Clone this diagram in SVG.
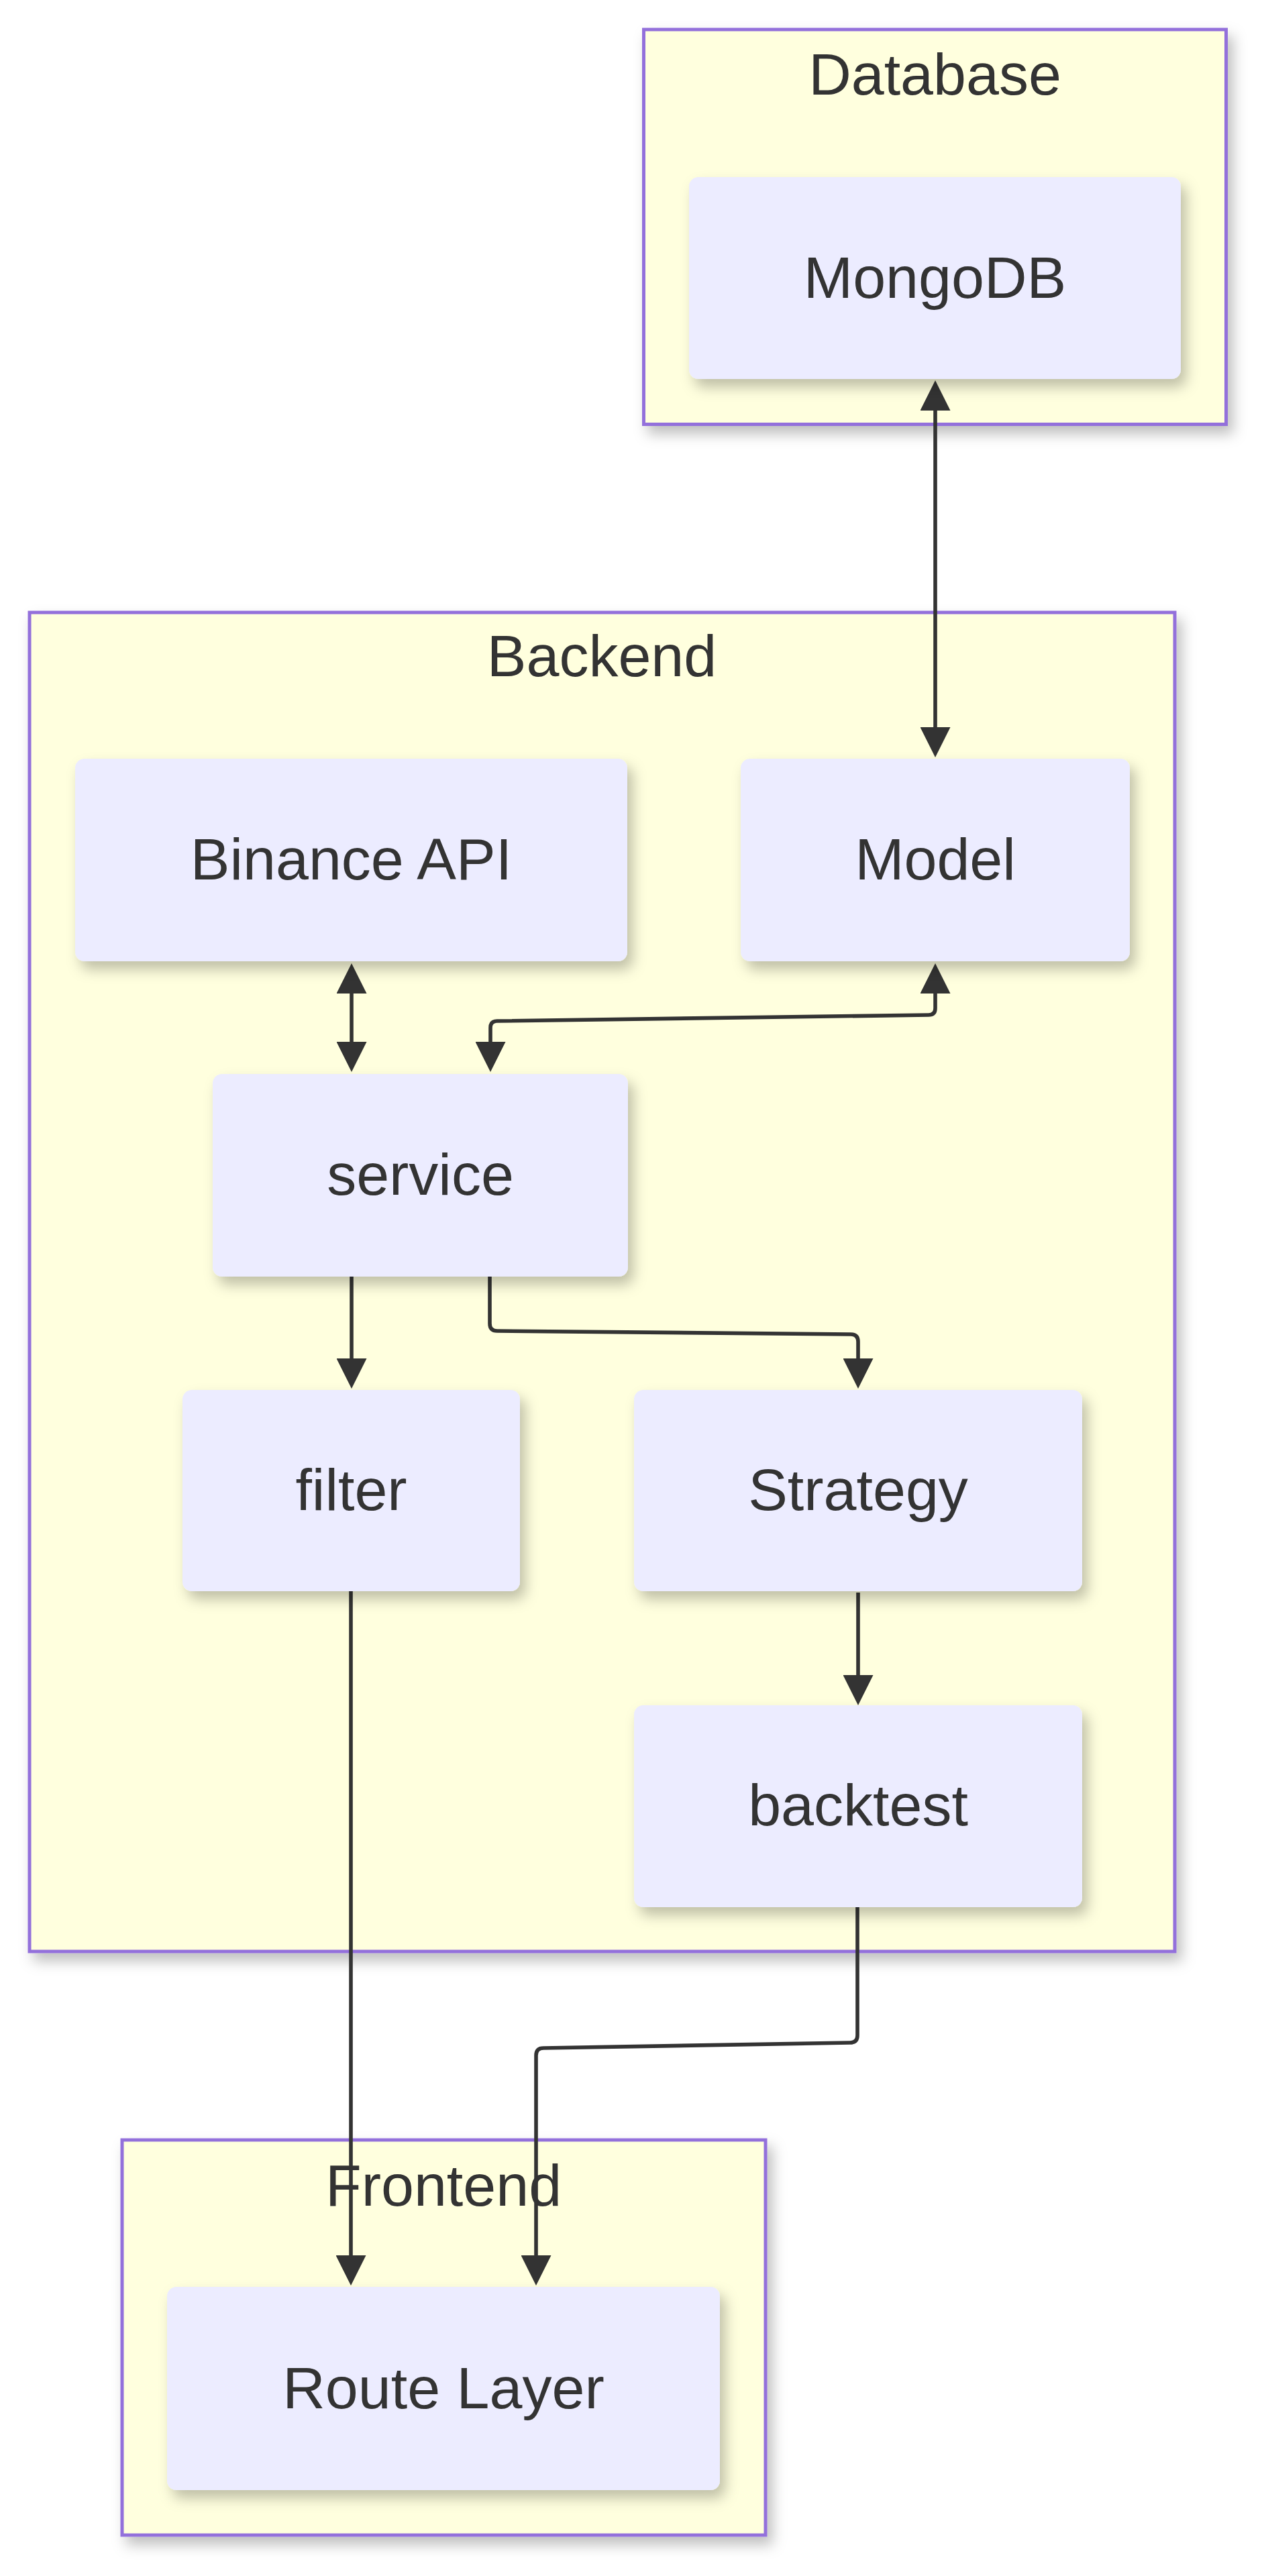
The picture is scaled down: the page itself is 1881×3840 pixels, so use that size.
<svg xmlns="http://www.w3.org/2000/svg" width="1881" height="3840" viewBox="0 0 1881 3840">
<style>
.cluster rect{fill:#ffffde;stroke:#9370DB;stroke-width:5;filter:url(#sh)}
.node rect{fill:#ECECFF;stroke:none;filter:url(#sh)}
text{font-family:"Liberation Sans",Arial,Helvetica,sans-serif;font-size:88px;fill:#333;text-anchor:middle}
.edge{fill:none;stroke:#333;stroke-width:5.6;marker-end:url(#arr)}
.bi{marker-start:url(#arr)}
</style>
<defs>
<filter id="sh" x="-10%" y="-10%" width="130%" height="130%">
<feDropShadow dx="8" dy="12" stdDeviation="10" flood-color="#000" flood-opacity="0.25"/>
</filter>
<marker id="arr" viewBox="0 0 10 10" refX="0" refY="5" markerUnits="userSpaceOnUse" markerWidth="45" markerHeight="45" orient="auto-start-reverse">
<path d="M0 0 L10 5 L0 10 z" fill="#333"/>
</marker>
</defs>
<rect width="1881" height="3840" fill="#ffffff"/>
<g id="cluster-Database" class="cluster"><rect x="959.5" y="44" width="868" height="588.5"/><text x="1393.5" y="141">Database</text></g>
<g id="cluster-Backend" class="cluster"><rect x="44" y="913" width="1707" height="1996"/><text x="897" y="1008">Backend</text></g>
<g id="cluster-Frontend" class="cluster"><rect x="182" y="3190" width="959" height="589"/><text x="661" y="3288">Frontend</text></g>
<g id="edges">
<path class="edge bi" d="M1394 612 L1394 1084"/>
<path class="edge bi" d="M524 1481 L524 1553"/>
<path class="edge bi" d="M1394 1481 L1394 1503 Q1394 1513 1384 1513 L741 1522 Q731 1522 731 1532 L731 1553"/>
<path class="edge" d="M524 1903 L524 2025"/>
<path class="edge" d="M730 1903 L730 1973 Q730 1984 741 1984 L1268 1989 Q1279 1989 1279 2000 L1279 2025"/>
<path class="edge" d="M1279 2374 L1279 2497"/>
<path class="edge" d="M523 2372 L523 3362"/>
<path class="edge" d="M1278 2843 L1278 3034 Q1278 3045 1267 3045 L810 3053 Q799 3053 799 3064 L799 3362"/>
</g>
<g id="node-MongoDB" class="node"><rect x="1027" y="264" width="733" height="301" rx="14"/><text x="1393.5" y="444">MongoDB</text></g>
<g id="node-Binance" class="node"><rect x="112" y="1131" width="823" height="302" rx="14"/><text x="523.5" y="1311">Binance API</text></g>
<g id="node-Model" class="node"><rect x="1104" y="1131" width="580" height="302" rx="14"/><text x="1394" y="1311">Model</text></g>
<g id="node-service" class="node"><rect x="317" y="1601" width="619" height="302" rx="14"/><text x="626.5" y="1781">service</text></g>
<g id="node-filter" class="node"><rect x="272" y="2072" width="503" height="300" rx="14"/><text x="523.5" y="2251">filter</text></g>
<g id="node-Strategy" class="node"><rect x="945" y="2072" width="668" height="300" rx="14"/><text x="1279" y="2251">Strategy</text></g>
<g id="node-backtest" class="node"><rect x="945" y="2542" width="668" height="301" rx="14"/><text x="1279" y="2721">backtest</text></g>
<g id="node-Route" class="node"><rect x="249" y="3409" width="824" height="303" rx="14"/><text x="661" y="3590">Route Layer</text></g>
</svg>
